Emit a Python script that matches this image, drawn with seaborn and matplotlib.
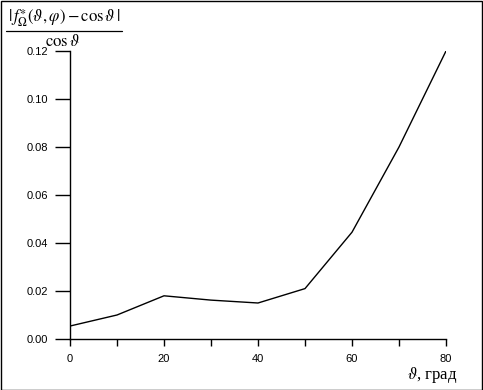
import numpy as np
import pandas as pd
import matplotlib
matplotlib.use("Agg")
import matplotlib.pyplot as plt
import seaborn as sns
from matplotlib.lines import Line2D
from matplotlib.patches import Rectangle

# ── data ──────────────────────────────────────────────────────────────────────
theta_deg = [0, 10, 20, 30, 40, 50, 60, 70, 80]
rel_error = [0.0054, 0.0100, 0.0180, 0.0162, 0.0150, 0.0210, 0.0445, 0.0800, 0.1200]
x_ticks = [0, 20, 40, 60, 80]
y_ticks = [0.00, 0.02, 0.04, 0.06, 0.08, 0.10, 0.12]

df = pd.DataFrame({"theta": theta_deg, "err": rel_error})

sns.set_style("ticks")
plt.rcParams["font.family"] = ["Liberation Sans", "DejaVu Sans"]
plt.rcParams["mathtext.fontset"] = "stix"

W, H = 483, 390
fig = plt.figure(figsize=(W / 100, H / 100), dpi=100)
ax = fig.add_axes([70 / W, (H - 339) / H, (446 - 70) / W, (339 - 51) / H])

sns.lineplot(data=df, x="theta", y="err", ax=ax, color="black", linewidth=1.0)

ax.set_xlim(0, 80)
ax.set_ylim(0, 0.12)
ax.set_xticks(x_ticks)
ax.set_xticks([10, 30, 50, 70], minor=True)
ax.set_yticks(y_ticks)
ax.set_xticklabels([str(v) for v in x_ticks])
ax.set_yticklabels([f"{v:.2f}" for v in y_ticks])
ax.set_xlabel("")
ax.set_ylabel("")

for s in ("top", "right"):
    ax.spines[s].set_visible(False)
for s in ("left", "bottom"):
    ax.spines[s].set_linewidth(1.0)
    ax.spines[s].set_color("black")

ax.tick_params(axis="x", which="both", direction="out", length=5, width=1,
               labelsize=8, colors="black", pad=6)
ax.tick_params(axis="y", which="major", direction="out", length=11, width=1,
               labelsize=8, colors="black", pad=5)

# y label as fraction at top-left
fig.text(8 / W, 1 - 18 / H,
         r"$|\,f^{\ast}_{\Omega}(\vartheta,\varphi) - \cos\vartheta\,|$",
         fontsize=12, ha="left", va="center", color="black")
fig.add_artist(Line2D([6 / W, 122 / W], [1 - 31 / H, 1 - 31 / H],
                      color="black", linewidth=0.9, transform=fig.transFigure))
fig.text(62 / W, 1 - 41 / H, r"$\cos\vartheta$", fontsize=12,
         ha="center", va="center", color="black")

# x label at bottom-right
fig.text(432 / W, 1 - 375 / H, r"$\vartheta$, град", fontsize=12,
         ha="center", va="center", color="black", family="Liberation Serif")

# outer frame
fig.add_artist(Rectangle((0.5 / W, 0.5 / H), (W - 1.5) / W, (H - 1.5) / H,
                         transform=fig.transFigure, fill=False,
                         edgecolor="black", linewidth=1.0))

fig.savefig("out.png", dpi=100)
